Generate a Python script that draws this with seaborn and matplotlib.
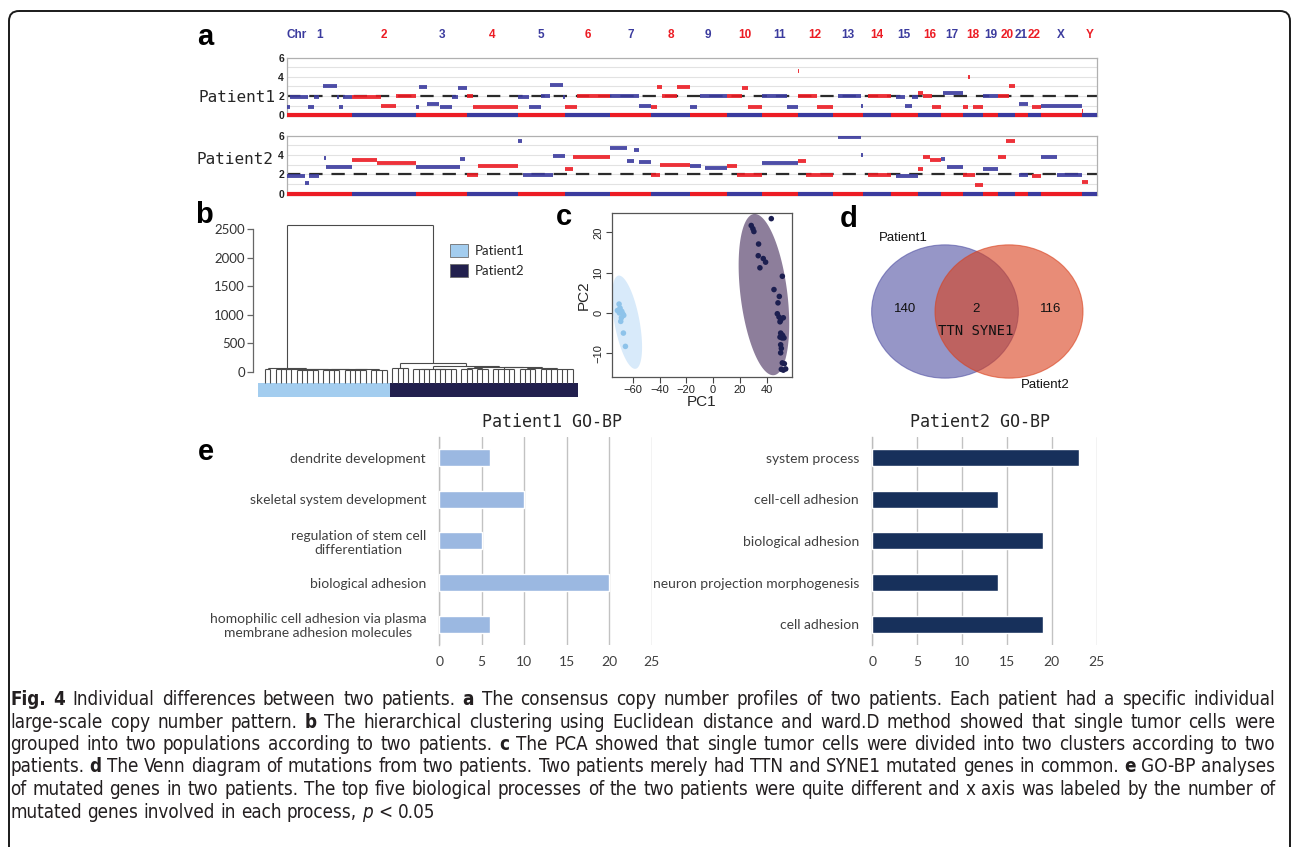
import numpy as np
import pandas as pd
import matplotlib
matplotlib.use("Agg")
import matplotlib.pyplot as plt
import seaborn as sns
from matplotlib.patches import Ellipse, FancyBboxPatch, Patch
from matplotlib.collections import LineCollection

# ---------------- data ----------------
chrom_names = [str(i) for i in range(1, 23)] + ["X", "Y"]
chrom_sizes = [249, 243, 198, 191, 181, 171, 159, 146, 141, 136, 135, 134,
               115, 107, 103, 90, 81, 78, 59, 63, 48, 51, 155, 59]

# copy number segments: (chrom, start Mb, end Mb, copy number)
p1_segments = [
    ("1", 0, 12, 0.8), ("1", 12, 83, 1.9), ("1", 83, 104, 0.8), ("1", 104, 125, 1.9),
    ("1", 140, 191, 3.0), ("1", 191, 200, 1.9), ("1", 200, 216, 0.8), ("1", 216, 249, 1.9),
    ("2", 0, 110, 1.9), ("2", 110, 170, 0.95), ("2", 170, 243, 1.95),
    ("3", 0, 12, 0.8), ("3", 12, 45, 2.9), ("3", 45, 90, 1.2), ("3", 95, 140, 0.85),
    ("3", 140, 160, 1.9), ("3", 160, 198, 2.8),
    ("4", 0, 20, 1.95), ("4", 20, 191, 0.85),
    ("5", 0, 45, 1.9), ("5", 45, 89, 0.85), ("5", 89, 125, 1.95), ("5", 125, 175, 3.1),
    ("5", 175, 181, 1.9),
    ("6", 0, 45, 0.85), ("6", 45, 171, 1.95),
    ("7", 0, 110, 1.95), ("7", 110, 159, 0.9),
    ("8", 0, 20, 0.8), ("8", 20, 40, 2.9), ("8", 40, 96, 1.95), ("8", 96, 146, 2.9),
    ("9", 0, 30, 0.85), ("9", 40, 141, 1.95),
    ("10", 0, 60, 1.95), ("10", 60, 80, 2.8), ("10", 80, 136, 0.85),
    ("11", 0, 93, 1.95), ("11", 93, 135, 0.85),
    ("12", 0, 73, 1.95), ("12", 1, 4, 4.6), ("12", 73, 134, 0.85),
    ("13", 19, 110, 1.95), ("13", 110, 115, 0.9),
    ("14", 20, 107, 1.95),
    ("15", 20, 55, 1.9), ("15", 55, 80, 1.0), ("15", 80, 103, 1.9),
    ("16", 0, 20, 2.3), ("16", 20, 55, 1.95), ("16", 55, 90, 0.85),
    ("17", 5, 81, 2.3),
    ("18", 0, 20, 0.85), ("18", 22, 30, 4.0), ("18", 40, 78, 0.85),
    ("19", 0, 59, 2.0),
    ("20", 0, 40, 1.95), ("20", 40, 63, 3.0),
    ("21", 14, 48, 1.2),
    ("22", 16, 51, 0.85),
    ("X", 0, 155, 0.95),
    ("Y", 0, 5, 0.4),
]
p2_segments = [
    ("1", 0, 70, 1.8), ("1", 70, 85, 1.1), ("1", 85, 125, 1.85), ("1", 142, 150, 3.7),
    ("1", 150, 249, 2.8),
    ("2", 0, 95, 3.5), ("2", 95, 243, 3.2),
    ("3", 0, 170, 2.75), ("3", 170, 190, 3.6),
    ("4", 0, 42, 1.9), ("4", 42, 191, 2.9),
    ("5", 0, 19, 5.5), ("5", 22, 134, 1.9), ("5", 134, 181, 3.9),
    ("6", 0, 30, 2.6), ("6", 30, 171, 3.85),
    ("7", 0, 66, 4.7), ("7", 66, 92, 3.4), ("7", 92, 111, 4.5), ("7", 111, 159, 3.3),
    ("8", 0, 33, 1.9), ("8", 33, 146, 3.0),
    ("9", 0, 45, 2.85), ("9", 60, 141, 2.7),
    ("10", 0, 38, 2.9), ("10", 38, 136, 1.9),
    ("11", 0, 135, 3.2),
    ("12", 0, 34, 3.4), ("12", 34, 134, 1.9),
    ("13", 19, 108, 5.85), ("13", 108, 115, 4.0),
    ("14", 20, 107, 1.9),
    ("15", 20, 103, 1.85),
    ("16", 0, 20, 2.6), ("16", 20, 45, 3.8), ("16", 45, 90, 3.5),
    ("17", 0, 15, 3.6), ("17", 20, 81, 2.8),
    ("18", 0, 48, 1.9), ("18", 48, 78, 0.9),
    ("19", 0, 59, 2.6),
    ("20", 0, 27, 3.8), ("20", 30, 63, 5.5),
    ("21", 14, 48, 1.9),
    ("22", 16, 51, 1.8),
    ("X", 0, 60, 3.8), ("X", 60, 155, 1.95),
    ("Y", 0, 25, 1.2),
]

# dendrogram: (merge height, [children]); an int child = that many single leaves
dendro_p1 = (70, [(45, [2]), (55, [(40, [4]), (50, [(35, [5]), (45, [(30, [4]), (40, [(35, [5]), (25, [4])])])])])])
dendro_p2 = (160, [(60, [4]), (105, [(55, [(40, [4]), (45, [5])]),
                                  (90, [(70, [(40, [3]), (50, [3])]),
                                        (80, [(45, [5]), (60, [(40, [4]), (50, [7])])])])])])
dendro_root_height = 2570

# PCA
pca_pc1_p1 = [-70.25, -71.5, -69.5, -68.25, -67.5, -66.75, -70.0, -68.5, -69.0, -67.0, -65.5]
pca_pc2_p1 = [2.2, 0.6, 1.2, 0.4, -0.2, -0.6, 0.0, -1.2, -2.1, -5.0, -8.3]
pca_pc1_p2 = [28.5, 29.75, 30.5, 43.5, 34.0, 33.75, 35.0, 37.5, 39.25, 51.75, 45.5, 49.5,
              48.5, 48.0, 49.25, 50.5, 50.0, 52.5, 50.5, 51.25, 52.0, 50.0, 51.5, 53.0,
              50.5, 51.0, 50.5, 51.75, 53.25, 51.0, 52.5, 54.25]
pca_pc2_p2 = [21.7, 20.9, 20.2, 23.4, 17.1, 14.2, 11.2, 13.5, 12.6, 9.1, 5.8, 4.1,
              2.5, -0.2, -1.0, -1.8, -2.2, -1.2, -5.0, -5.4, -5.6, -6.0, -6.2, -6.2,
              -7.9, -8.8, -9.9, -12.4, -12.6, -14.0, -14.2, -13.9]
# group ellipses: centre and two semi-axis vectors, in PC units
ellipse_centers = [(-64.3, -2.3), (38.0, 4.55)]
ellipse_major = [(-6.45, 11.56), (-7.5, 20.0)]
ellipse_minor = [(9.2, 0.56), (17.35, 0.71)]

# Venn
venn_labels = ["Patient1", "Patient2"]
venn_counts = [140, 2, 116]
venn_shared = ["TTN", "SYNE1"]

# GO-BP
go_terms_p1 = ["dendrite development", "skeletal system development",
               "regulation of stem cell\ndifferentiation", "biological adhesion",
               "homophilic cell adhesion via plasma\nmembrane adhesion molecules"]
go_counts_p1 = [6, 10, 5, 20, 6]
go_terms_p2 = ["system process", "cell-cell adhesion", "biological adhesion",
               "neuron projection morphogenesis", "cell adhesion"]
go_counts_p2 = [23, 14, 19, 14, 19]

caption_lines = [
    [("Fig. 4", "bold"), (" Individual differences between two patients. ", "normal"), ("a", "bold"),
     (" The consensus copy number profiles of two patients. Each patient had a specific individual", "normal")],
    [("large-scale copy number pattern. ", "normal"), ("b", "bold"),
     (" The hierarchical clustering using Euclidean distance and ward.D method showed that single tumor cells were", "normal")],
    [("grouped into two populations according to two patients. ", "normal"), ("c", "bold"),
     (" The PCA showed that single tumor cells were divided into two clusters according to two", "normal")],
    [("patients. ", "normal"), ("d", "bold"),
     (" The Venn diagram of mutations from two patients. Two patients merely had TTN and SYNE1 mutated genes in common. ", "normal"),
     ("e", "bold"), (" GO-BP analyses", "normal")],
    [("of mutated genes in two patients. The top five biological processes of the two patients were quite different and x axis was labeled by the number of", "normal")],
    [("mutated genes involved in each process, ", "normal"), ("p", "italic"), (" < 0.05", "normal")],
]

# ---------------- style ----------------
sns.set_theme(style="white")
plt.rcParams["font.family"] = ["Liberation Sans", "DejaVu Sans"]

BLUE = "#3b3b9e"
RED = "#ec1c24"
P1_LIGHT = "#a3cdef"
P2_DARK = "#22204e"
MONO = "DejaVu Sans Mono"
CALIBRI = "Lato"

W, H = 1292, 847
fig = plt.figure(figsize=(W / 100, H / 100), dpi=100)


def px_axes(x0, y0, x1, y1):
    return fig.add_axes([x0 / W, 1 - y1 / H, (x1 - x0) / W, (y1 - y0) / H])


bg = fig.add_axes([0, 0, 1, 1])
bg.set_xlim(0, W)
bg.set_ylim(H, 0)
bg.axis("off")

# outer frame
bg.add_patch(FancyBboxPatch((9, 11), 1281, 900, boxstyle="round,pad=0,rounding_size=10",
                            fill=False, ec="#1a1a1a", lw=1.4))

# panel letters
for letter, (x, y) in zip("abcde", [(205, 45), (204, 223), (564, 225), (849, 227), (206, 460)]):
    bg.text(x, y, letter, fontsize=21, weight="bold", ha="center", va="baseline", color="black")

# ---------------- a: copy number profiles ----------------
offsets = np.concatenate([[0], np.cumsum(chrom_sizes)[:-1]])
genome_len = sum(chrom_sizes)
chrom_index = {c: i for i, c in enumerate(chrom_names)}
label_colors = [BLUE if i % 2 == 0 else RED for i in range(len(chrom_names))]
strip_colors = [RED if i % 2 == 0 else BLUE for i in range(len(chrom_names))]


def draw_cnv(ax, segs):
    df = pd.DataFrame(segs, columns=["chrom", "start", "end", "cn"])
    ci = df["chrom"].map(chrom_index).to_numpy()
    g0 = offsets[ci] + df["start"].to_numpy()
    g1 = offsets[ci] + df["end"].to_numpy()
    ax.set_xlim(0, genome_len)
    ax.set_ylim(-0.15, 6)
    for yy in [1, 2, 3, 4, 5]:
        ax.axhline(yy, color="#e2e2e2", lw=0.8, zorder=0)
    ax.axhline(2, color="#2b2b2b", lw=1.6, dashes=(6, 4), zorder=1)
    ax.hlines(df["cn"], g0, g1, colors=[label_colors[i] for i in ci], lw=2.8, alpha=0.9, zorder=3)
    ax.hlines(np.zeros(len(chrom_sizes)), offsets, offsets + np.array(chrom_sizes),
              colors=strip_colors, lw=3, zorder=4, clip_on=False)
    ax.set_xticks([])
    ax.set_yticks([0, 2, 4, 6])
    ax.set_yticklabels(["0", "2", "4", "6"], fontsize=7.5, fontweight="bold", color="#222222")
    ax.tick_params(axis="y", length=0, pad=2)
    for s in ax.spines.values():
        s.set_color("#b0b0b0")
        s.set_linewidth(0.9)


ax1 = px_axes(286.7, 57.7, 1097, 116.5)
ax2 = px_axes(286.7, 135.7, 1097, 195.3)
draw_cnv(ax1, p1_segments)
draw_cnv(ax2, p2_segments)

bg.text(275, 97, "Patient1", ha="right", va="center", family=MONO, fontsize=11.5)
bg.text(273, 160, "Patient2", ha="right", va="center", family=MONO, fontsize=11.5)
bg.text(297, 35, "Chr", ha="center", va="center", fontsize=8.5, weight="bold", color=BLUE)
for i, name in enumerate(chrom_names):
    ax1.text(offsets[i] + chrom_sizes[i] / 2, 1.386, name, transform=ax1.get_xaxis_transform(),
             ha="center", va="center", fontsize=8.5, weight="bold", color=label_colors[i])

# ---------------- b: dendrogram ----------------
ax_b = px_axes(253.3, 215, 580, 400)
leaf_bottom = -193
segments = []


def draw_tree(node, state):
    h, children = node
    pts = []
    for ch in children:
        if isinstance(ch, int):
            for _ in range(ch):
                pts.append((state["next"], leaf_bottom))
                state["next"] += 1
        else:
            pts.append(draw_tree(ch, state))
    for x, y in pts:
        segments.append([(x, y), (x, h)])
    segments.append([(pts[0][0], h), (pts[-1][0], h)])
    return ((pts[0][0] + pts[-1][0]) / 2, h)


state = {"next": 0}
p1_top = draw_tree(dendro_p1, state)
n1 = state["next"]
p2_top = draw_tree(dendro_p2, state)
n_total = state["next"]
segments.append([(p1_top[0], p1_top[1]), (p1_top[0], dendro_root_height)])
segments.append([(p2_top[0], p2_top[1]), (p2_top[0], dendro_root_height)])
segments.append([(p1_top[0], dendro_root_height), (p2_top[0], dendro_root_height)])
ax_b.add_collection(LineCollection(segments, colors="#4a4a4a", linewidths=0.8))

ax_b.fill_between([-1.3, n1 - 0.5], -449, leaf_bottom, color=P1_LIGHT, lw=0)
ax_b.fill_between([n1 - 0.5, n_total], -449, leaf_bottom, color=P2_DARK, lw=0)
ax_b.set_xlim(-2.2, 59.4)
ax_b.set_ylim(-497, 2751)
ax_b.set_xticks([])
ax_b.set_yticks(range(0, 2501, 500))
ax_b.set_yticklabels([str(v) for v in range(0, 2501, 500)], family=CALIBRI, fontsize=9.5, color="#333333")
ax_b.tick_params(axis="y", left=True, direction="out", length=4, width=0.9, color="#666666", pad=2)
for s in ["top", "right", "bottom"]:
    ax_b.spines[s].set_visible(False)
ax_b.spines["left"].set_bounds(0, 2500)
ax_b.spines["left"].set_color("#666666")
ax_b.spines["left"].set_linewidth(0.9)
ax_b.patch.set_alpha(0)
handles = [Patch(facecolor=P1_LIGHT, edgecolor="#6d6d6d", lw=0.6, label="Patient1"),
           Patch(facecolor=P2_DARK, edgecolor="#6d6d6d", lw=0.6, label="Patient2")]
ax_b.legend(handles=handles, loc="upper left", bbox_to_anchor=(450 / W, 1 - 244 / H),
            bbox_transform=fig.transFigure, frameon=False, prop={"family": CALIBRI, "size": 9.5},
            handlelength=1.4, handleheight=1.1, handletextpad=0.5, labelspacing=0.55,
            borderpad=0, borderaxespad=0)

# ---------------- c: PCA ----------------
ax_c = px_axes(611.7, 213, 791.7, 377)
pca_df = pd.DataFrame({
    "PC1": pca_pc1_p1 + pca_pc1_p2,
    "PC2": pca_pc2_p1 + pca_pc2_p2,
    "patient": ["Patient1"] * len(pca_pc1_p1) + ["Patient2"] * len(pca_pc1_p2),
})
t = np.linspace(0, 2 * np.pi, 200)
for c, u, v, col in zip(ellipse_centers, ellipse_major, ellipse_minor, ["#d8eafa", "#8d7e9b"]):
    ex = c[0] + u[0] * np.cos(t) + v[0] * np.sin(t)
    ey = c[1] + u[1] * np.cos(t) + v[1] * np.sin(t)
    ax_c.fill(ex, ey, color=col, lw=0, zorder=1)
sns.scatterplot(data=pca_df, x="PC1", y="PC2", hue="patient",
                palette={"Patient1": "#8ec3ea", "Patient2": "#1c1f50"},
                s=16, linewidth=0, legend=False, ax=ax_c, zorder=3)
ax_c.set_xlim(-75.75, 58.75)
ax_c.set_ylim(-15.9, 24.8)
ax_c.set_xticks([-60, -40, -20, 0, 20, 40])
ax_c.set_yticks([-10, 0, 10, 20])
ax_c.tick_params(left=True, bottom=True, direction="out", length=4, width=0.8,
                 color="#444444", labelsize=8, pad=2, labelcolor="#222222")
for lbl in ax_c.get_yticklabels():
    lbl.set_rotation(90)
    lbl.set_va("center")
ax_c.set_xlabel("PC1", fontsize=11, labelpad=0)
ax_c.set_ylabel("PC2", fontsize=11, labelpad=2)
for s in ax_c.spines.values():
    s.set_color("#555555")
    s.set_linewidth(0.9)

# ---------------- d: Venn ----------------
ax_d = px_axes(840, 205, 1100, 400)
ax_d.set_xlim(840, 1100)
ax_d.set_ylim(400, 205)
ax_d.axis("off")
ax_d.add_patch(Ellipse((945, 311.5), 146.7, 133.3, fc="#5050a3", ec="#5050a3", lw=0.8, alpha=0.6))
ax_d.add_patch(Ellipse((1009, 311.5), 148, 133.3, fc="#d9401c", ec="#d9401c", lw=0.8, alpha=0.6))
ax_d.text(905, 309, str(venn_counts[0]), ha="center", va="center", fontsize=9.5, color="#111111")
ax_d.text(976, 309, str(venn_counts[1]), ha="center", va="center", fontsize=9.5, color="#111111")
ax_d.text(1051, 309, str(venn_counts[2]), ha="center", va="center", fontsize=9.5, color="#111111")
ax_d.text(976, 331, " ".join(venn_shared), ha="center", va="center", fontsize=10, family=MONO, color="#111111")
ax_d.text(903, 238, venn_labels[0], ha="center", va="center", fontsize=9.5, color="#111111")
ax_d.text(1045, 385, venn_labels[1], ha="center", va="center", fontsize=9.5, color="#111111")

# ---------------- e: GO-BP bars ----------------


def go_panel(ax, terms, counts, color, title, title_x):
    sns.barplot(x=counts, y=terms, orient="h", color=color, saturation=1, width=0.41, ax=ax, zorder=3)
    ax.set_xlim(0, 25)
    ax.set_ylim(4.5, -0.5)
    ax.set_xticks(range(0, 26, 5))
    ax.grid(axis="x", color="#c2c2c2", lw=1)
    ax.grid(axis="y", visible=False)
    ax.set_axisbelow(True)
    for s in ["top", "right", "bottom"]:
        ax.spines[s].set_visible(False)
    ax.spines["left"].set_color("#bdbdbd")
    ax.spines["left"].set_linewidth(1)
    ax.set_xlabel("")
    ax.set_ylabel("")
    ax.tick_params(axis="x", length=0, labelsize=10, pad=8, labelcolor="#404040")
    ax.tick_params(axis="y", length=0, labelsize=10, pad=9.5, labelcolor="#404040")
    for lbl in ax.get_xticklabels() + ax.get_yticklabels():
        lbl.set_family(CALIBRI)
    for lbl in ax.get_yticklabels():
        lbl.set_multialignment("center")
    bg.text(title_x, 422, title, ha="center", va="center", family=MONO, fontsize=12)


ax_e1 = px_axes(439.3, 436.7, 651.7, 645)
ax_e2 = px_axes(872.3, 436.7, 1096.7, 645)
go_panel(ax_e1, go_terms_p1, go_counts_p1, "#9bb8e1", "Patient1 GO-BP", 552)
go_panel(ax_e2, go_terms_p2, go_counts_p2, "#17305b", "Patient2 GO-BP", 980)

# ---------------- caption ----------------
CAP_FAMILY = ["Liberation Sans Narrow", "DejaVu Sans"]
STYLE = {"normal": {}, "bold": {"weight": "bold"}, "italic": {"style": "italic"}}
renderer = fig.canvas.get_renderer()


def text_width(s, style, fs):
    tt = bg.text(0, 0, s, fontsize=fs, family=CAP_FAMILY, fontstretch="condensed", **STYLE[style])
    w = tt.get_window_extent(renderer).width
    tt.remove()
    return w


line_words = []
for line in caption_lines:
    words = []
    for txt, style in line:
        for w in txt.split(" "):
            if w:
                words.append((w, style))
    line_words.append(words)

x_left, x_right = 10, 1275
base_fs = 10
space_base = text_width("a a", "normal", base_fs) - text_width("aa", "normal", base_fs)
natural = []
for words in line_words[:-1]:
    natural.append(sum(text_width(w, s, base_fs) for w, s in words) + space_base * (len(words) - 1))
cap_fs = base_fs * (x_right - x_left) / max(natural)
space_w = text_width("a a", "normal", cap_fs) - text_width("aa", "normal", cap_fs)

caption_baselines = [705, 727.5, 750, 772.5, 795, 817.5]
for li, words in enumerate(line_words):
    widths = [text_width(w, s, cap_fs) for w, s in words]
    if li < len(line_words) - 1:
        gap = (x_right - x_left - sum(widths)) / (len(words) - 1)
    else:
        gap = space_w
    x = x_left
    for (w, s), wd in zip(words, widths):
        bg.text(x, caption_baselines[li], w, fontsize=cap_fs, family=CAP_FAMILY,
                fontstretch="condensed", color="#231f20", ha="left", va="baseline", **STYLE[s])
        x += wd + gap

fig.savefig("out.png", dpi=100)
